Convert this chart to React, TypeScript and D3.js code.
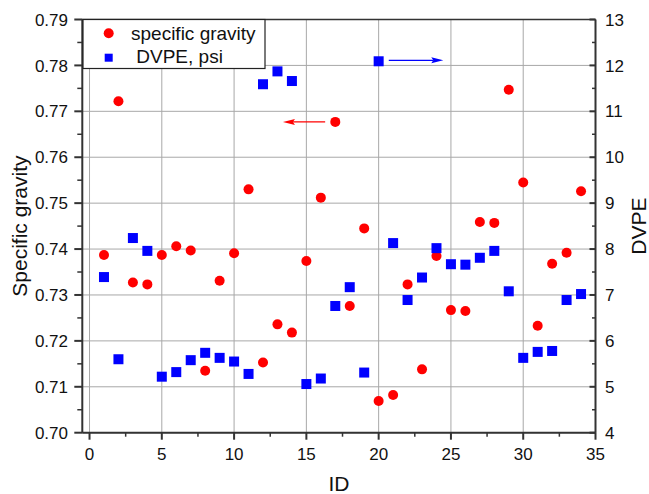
import React from "react";
import * as d3 from "d3";

const ids = d3.range(1, 35);
const specificGravity = [
  0.7387, 0.7722, 0.7327, 0.7323, 0.7387, 0.7406, 0.7397, 0.7135, 0.7331, 0.7391,
  0.7530, 0.7153, 0.7236, 0.7218, 0.7374, 0.7512, 0.7677, 0.7276, 0.7445, 0.7069,
  0.7082, 0.7323, 0.7138, 0.7385, 0.7267, 0.7265, 0.7459, 0.7457, 0.7747, 0.7545,
  0.7233, 0.7368, 0.7392, 0.7526,
];
const dvpe = [
  7.39, 5.60, 8.24, 7.96, 5.22, 5.32, 5.58, 5.74, 5.63, 5.55,
  5.28, 11.59, 11.87, 11.66, 5.06, 5.18, 6.76, 7.17, 5.31, 12.09,
  8.13, 6.89, 7.38, 8.02, 7.67, 7.66, 7.81, 7.96, 7.08, 5.63,
  5.76, 5.78, 6.89, 7.02,
];
const xTicks = [0, 5, 10, 15, 20, 25, 30, 35];
const xMinor = [2.5, 7.5, 12.5, 17.5, 22.5, 27.5, 32.5];
const yLTicks = [0.70, 0.71, 0.72, 0.73, 0.74, 0.75, 0.76, 0.77, 0.78, 0.79];
const yLMinor = [0.705, 0.715, 0.725, 0.735, 0.745, 0.755, 0.765, 0.775, 0.785];
const yRTicks = [4, 5, 6, 7, 8, 9, 10, 11, 12, 13];
const yRMinor = [4.5, 5.5, 6.5, 7.5, 8.5, 9.5, 10.5, 11.5, 12.5];
// arrow annotations in data coordinates
const redArrow = { from: 16.3, to: 13.38, y: 0.7677 };
const blueArrow = { from: 20.7, to: 24.47, y: 12.11 };

const W = 649, H = 494;
const L = 82.3, R = 595.5, T = 19.5, B = 432.7;
const FONT = "'Liberation Sans', Arial, sans-serif";

export default function App() {
  const x = d3.scaleLinear().domain([-0.5, 35]).range([L, R]);
  const yL = d3.scaleLinear().domain([0.70, 0.79]).range([B, T]);
  const yR = d3.scaleLinear().domain([4, 13]).range([B, T]);
  const axisColor = "#333";
  const gridColor = "#a8a8a8";

  const ra = { x1: x(redArrow.from), x2: x(redArrow.to), y: yL(redArrow.y) };
  const ba = { x1: x(blueArrow.from), x2: x(blueArrow.to), y: yR(blueArrow.y) };

  return (
    <svg width={W} height={H} style={{ position: "absolute", left: 0, top: 0, background: "#fff" }} fontFamily={FONT}>
      <rect x={0} y={0} width={W} height={H} fill="#fff" />
      {/* grid */}
      {xTicks.map((t) => (
        <line key={"gx" + t} x1={x(t)} x2={x(t)} y1={T} y2={B} stroke={gridColor} strokeWidth={1} />
      ))}
      {yLTicks.map((t) => (
        <line key={"gy" + t} x1={L} x2={R} y1={yL(t)} y2={yL(t)} stroke={gridColor} strokeWidth={1} />
      ))}
      {/* frame */}
      <line x1={L} x2={R} y1={T} y2={T} stroke={axisColor} strokeWidth={1.5} />
      <line x1={L} x2={R} y1={B} y2={B} stroke={axisColor} strokeWidth={2} />
      <line x1={L} x2={L} y1={T} y2={B} stroke={axisColor} strokeWidth={2} />
      <line x1={R} x2={R} y1={T} y2={B} stroke={axisColor} strokeWidth={2} />
      {/* left ticks */}
      {yLTicks.map((t) => (
        <g key={"lt" + t}>
          <line x1={L - 8} x2={L} y1={yL(t)} y2={yL(t)} stroke={axisColor} strokeWidth={2} />
          <text x={68} y={yL(t)} dy="0.36em" textAnchor="end" fontSize={17} fill="#111">
            {t.toFixed(2)}
          </text>
        </g>
      ))}
      {yLMinor.map((t) => (
        <line key={"lm" + t} x1={L - 5} x2={L} y1={yL(t)} y2={yL(t)} stroke={axisColor} strokeWidth={1.5} />
      ))}
      {/* right ticks (inward) */}
      {yRTicks.map((t) => (
        <g key={"rt" + t}>
          <line x1={R - 6} x2={R} y1={yR(t)} y2={yR(t)} stroke={axisColor} strokeWidth={2} />
          <text x={605} y={yR(t)} dy="0.36em" textAnchor="start" fontSize={17} fill="#111">
            {t}
          </text>
        </g>
      ))}
      {yRMinor.map((t) => (
        <line key={"rm" + t} x1={R - 3.5} x2={R} y1={yR(t)} y2={yR(t)} stroke={axisColor} strokeWidth={1.5} />
      ))}
      {/* bottom ticks */}
      {xTicks.map((t) => (
        <g key={"bt" + t}>
          <line x1={x(t)} x2={x(t)} y1={B} y2={B + 7} stroke={axisColor} strokeWidth={2} />
          <text x={x(t)} y={460} textAnchor="middle" fontSize={17} fill="#111">
            {t}
          </text>
        </g>
      ))}
      {xMinor.map((t) => (
        <line key={"bm" + t} x1={x(t)} x2={x(t)} y1={B} y2={B + 4} stroke={axisColor} strokeWidth={1.5} />
      ))}
      {/* axis titles */}
      <text transform={`translate(27,${(T + B) / 2}) rotate(-90)`} textAnchor="middle" fontSize={21} fill="#111">
        Specific gravity
      </text>
      <text transform={`translate(646,${(T + B) / 2}) rotate(-90)`} textAnchor="middle" fontSize={21} fill="#111">
        DVPE
      </text>
      <text x={(L + R) / 2} y={491} textAnchor="middle" fontSize={21} fill="#111">
        ID
      </text>
      {/* data */}
      {ids.map((id, i) => (
        <circle key={"c" + id} cx={x(id)} cy={yL(specificGravity[i])} r={5} fill="#ff0000" />
      ))}
      {ids.map((id, i) => (
        <rect key={"s" + id} x={x(id) - 5} y={yR(dvpe[i]) - 5} width={10} height={10} fill="#0000ff" />
      ))}
      {/* arrows */}
      <line x1={ra.x1} x2={ra.x2 + 10} y1={ra.y} y2={ra.y} stroke="#ff0000" strokeWidth={1.2} />
      <path d={`M${ra.x2},${ra.y} L${ra.x2 + 12},${ra.y - 3} L${ra.x2 + 10},${ra.y} L${ra.x2 + 12},${ra.y + 3} Z`} fill="#ff0000" />
      <line x1={ba.x1} x2={ba.x2 - 10} y1={ba.y} y2={ba.y} stroke="#0000ff" strokeWidth={1.2} />
      <path d={`M${ba.x2},${ba.y} L${ba.x2 - 12},${ba.y - 3} L${ba.x2 - 10},${ba.y} L${ba.x2 - 12},${ba.y + 3} Z`} fill="#0000ff" />
      {/* legend */}
      <rect x={83} y={19.5} width={182} height={49} fill="#fff" stroke="#222" strokeWidth={1.2} />
      <circle cx={108.7} cy={33.3} r={5} fill="#ff0000" />
      <text x={131} y={40} fontSize={19} fill="#111">specific gravity</text>
      <rect x={104.7} y={53.7} width={8} height={8} fill="#0000ff" />
      <text x={136.3} y={63.3} fontSize={19} fill="#111">DVPE, psi</text>
    </svg>
  );
}
